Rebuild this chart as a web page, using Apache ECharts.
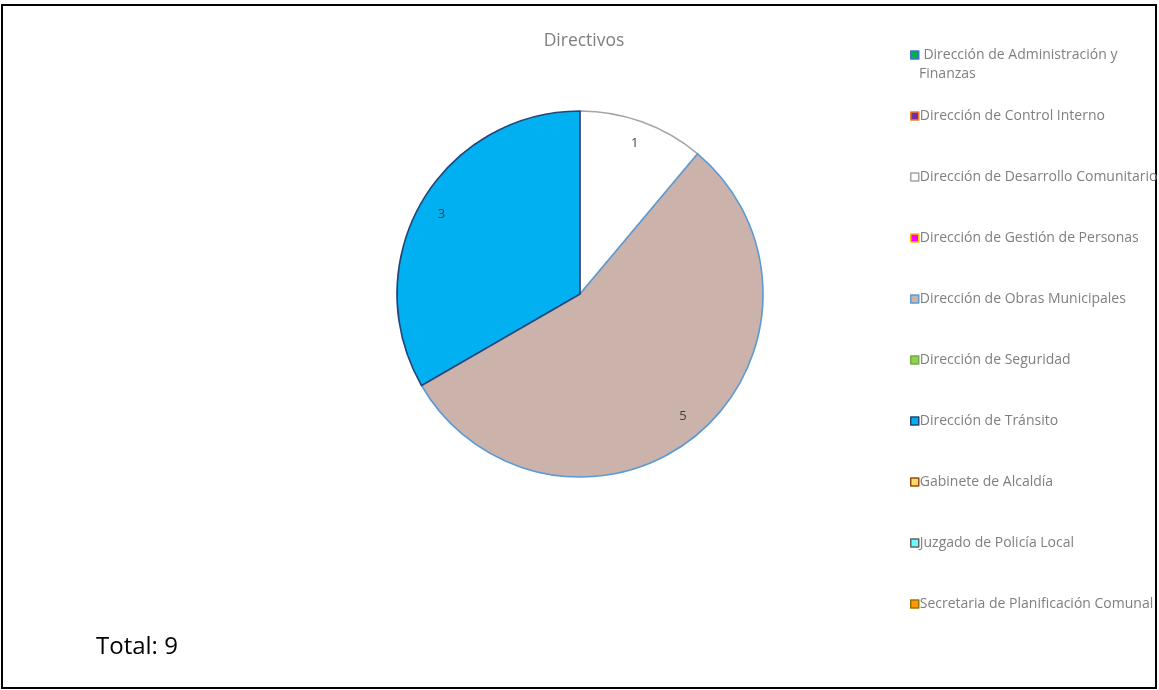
<!DOCTYPE html>
<html>
<head>
<meta charset="utf-8">
<script src="https://cdn.jsdelivr.net/npm/echarts@6/dist/echarts.min.js"></script>
<style>
html,body{margin:0;padding:0;background:#fff;}
#chart{width:1159px;height:690px;}
</style>
</head>
<body>
<div id="chart"></div>
<script>
const chartTitle = 'Directivos';
const categories = [
  'Dirección de Administración y Finanzas',
  'Dirección de Control Interno',
  'Dirección de Desarrollo Comunitario',
  'Dirección de Gestión de Personas',
  'Dirección de Obras Municipales',
  'Dirección de Seguridad',
  'Dirección de Tránsito',
  'Gabinete de Alcaldía',
  'Juzgado de Policía Local',
  'Secretaria de Planificación Comunal'
];
const values = [0, 0, 1, 0, 5, 0, 3, 0, 0, 0];
const fillColors = ['#00B050', '#7030A0', '#FFFFFF', '#FF00FF', '#CBB2AA', '#92D050', '#00B0F0', '#FFD966', '#66FFFF', '#FF9900'];
const borderColors = ['#4472C4', '#ED7D31', '#A5A5A5', '#FFC000', '#5B9BD5', '#70AD47', '#264478', '#9E480E', '#636363', '#997300'];
const totalText = 'Total: 9';

const chart = echarts.init(document.getElementById('chart'));

const pieData = categories.map((name, i) => ({
  name: name,
  value: values[i],
  itemStyle: {
    color: fillColors[i],
    borderColor: borderColors[i],
    borderWidth: values[i] > 0 ? 1.6 : 0
  }
}));

const labelData = categories.map((name, i) => ({
  name: name,
  value: values[i],
  label: { show: values[i] > 0 }
}));

const legendData = categories.map((name, i) => ({
  name: name,
  itemStyle: { color: fillColors[i], borderColor: borderColors[i], borderWidth: 1.5 }
}));

chart.setOption({
  animation: false,
  title: {
    text: chartTitle,
    left: 579,
    top: 27,
    textAlign: 'center',
    textStyle: { color: '#7F7F7F', fontSize: 17.5, fontWeight: 'normal', fontFamily: 'Open Sans' }
  },
  legend: {
    orient: 'vertical',
    left: 905,
    top: 42,
    itemWidth: 8,
    itemHeight: 8,
    itemGap: 45,
    icon: 'rect',
    selectedMode: false,
    formatter: function (name) {
      return name === categories[0] ? ' Dirección de Administración y' : name;
    },
    textStyle: { color: '#7F7F7F', fontSize: 14, fontFamily: 'Open Sans', padding: [0, 0, 0, -4], lineHeight: 16 },
    data: legendData
  },
  graphic: [
    {
      type: 'rect',
      shape: { x: 2, y: 5, width: 1154, height: 683 },
      style: { fill: 'none', stroke: '#000', lineWidth: 2 },
      silent: true
    },
    {
      type: 'text',
      left: 919,
      top: 67,
      style: { text: 'Finanzas', fill: '#7F7F7F', fontSize: 14, fontFamily: 'Open Sans' }
    },
    {
      type: 'text',
      left: 96,
      top: 635,
      style: { text: totalText, fill: '#000', fontSize: 24, fontFamily: 'Open Sans' }
    }
  ],
  series: [
    {
      type: 'pie',
      center: [580, 294],
      radius: [0, 183],
      startAngle: 90,
      clockwise: true,
      label: { show: false },
      labelLine: { show: false },
      emphasis: { disabled: true },
      data: pieData
    },
    {
      type: 'pie',
      center: [580, 294],
      radius: [0, 314],
      startAngle: 90,
      clockwise: true,
      silent: true,
      itemStyle: { color: 'rgba(0,0,0,0)', borderWidth: 0 },
      label: { show: true, position: 'inside', formatter: '{c}', color: '#404040', fontSize: 13, fontFamily: 'Open Sans' },
      labelLine: { show: false },
      emphasis: { disabled: true },
      data: labelData
    }
  ]
});
</script>
</body>
</html>
